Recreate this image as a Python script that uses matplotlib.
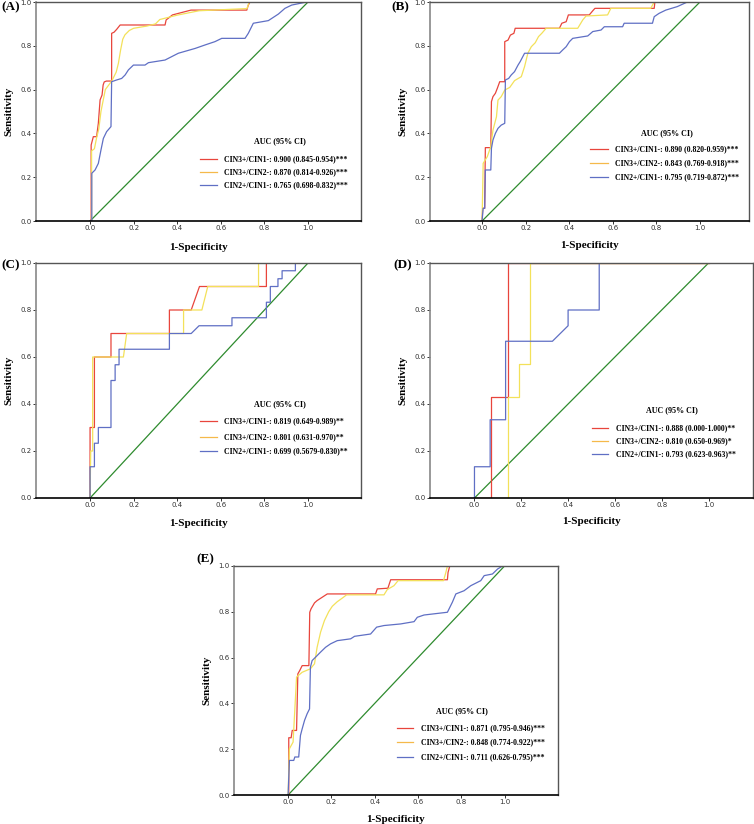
import matplotlib
matplotlib.use("Agg")
import matplotlib.pyplot as plt

# ROC curve vertices (1-specificity, sensitivity)
# (A)
a_red_x = [0, 0.005, 0.005, 0.015, 0.03, 0.038, 0.042, 0.046, 0.055, 0.06, 0.065, 0.075, 0.099, 0.099,
           0.11, 0.122, 0.138, 0.344, 0.349, 0.378, 0.463, 0.719, 0.726, 0.734, 1.0]
a_red_y = [0, 0, 0.347, 0.385, 0.385, 0.446, 0.5, 0.553, 0.575, 0.621, 0.635, 0.639, 0.639, 0.857,
           0.862, 0.875, 0.895, 0.895, 0.918, 0.941, 0.963, 0.963, 0.986, 1.0, 1.0]
a_yel_x = [0, 0.007, 0.007, 0.02, 0.03, 0.04, 0.05, 0.06, 0.07, 0.1, 0.12, 0.13, 0.14, 0.15, 0.16,
           0.18, 0.2, 0.26, 0.3, 0.32, 0.4, 0.5, 0.72, 0.73, 1.0]
a_yel_y = [0, 0, 0.32, 0.33, 0.38, 0.42, 0.5, 0.55, 0.6, 0.64, 0.68, 0.72, 0.78, 0.83, 0.85,
           0.87, 0.88, 0.89, 0.9, 0.92, 0.94, 0.96, 0.97, 1.0, 1.0]
a_blu_x = [0, 0.008, 0.008, 0.023, 0.038, 0.05, 0.061, 0.076, 0.096, 0.099, 0.122, 0.145, 0.161, 0.176,
           0.199, 0.252, 0.268, 0.344, 0.405, 0.482, 0.528, 0.573, 0.604, 0.711, 0.726, 0.749, 0.818,
           0.864, 0.894, 0.925, 0.994, 1.0]
a_blu_y = [0, 0, 0.218, 0.233, 0.263, 0.324, 0.377, 0.408, 0.431, 0.636, 0.644, 0.651, 0.667, 0.69,
           0.712, 0.712, 0.723, 0.735, 0.766, 0.788, 0.804, 0.819, 0.834, 0.834, 0.857, 0.903, 0.915,
           0.945, 0.971, 0.986, 1.0, 1.0]

# (B)
b_red_x = [0, 0.003, 0.012, 0.015, 0.04, 0.043, 0.05, 0.061, 0.07, 0.081, 0.104, 0.104, 0.119, 0.13,
           0.146, 0.152, 0.355, 0.366, 0.386, 0.396, 0.492, 0.508, 0.518, 0.79, 0.793, 1.0]
b_red_y = [0, 0.058, 0.058, 0.335, 0.335, 0.545, 0.568, 0.583, 0.606, 0.636, 0.636, 0.819, 0.826, 0.849,
           0.857, 0.88, 0.88, 0.903, 0.91, 0.941, 0.941, 0.96, 0.971, 0.971, 1.0, 1.0]
b_yel_x = [0, 0.005, 0.024, 0.04, 0.05, 0.066, 0.073, 0.088, 0.104, 0.127, 0.149, 0.18, 0.195, 0.21,
           0.226, 0.244, 0.259, 0.274, 0.294, 0.439, 0.462, 0.477, 0.576, 0.591, 0.774, 0.79, 1.0]
b_yel_y = [0, 0.263, 0.294, 0.34, 0.415, 0.476, 0.552, 0.568, 0.598, 0.61, 0.641, 0.659, 0.705, 0.766,
           0.796, 0.814, 0.842, 0.857, 0.88, 0.88, 0.918, 0.936, 0.941, 0.971, 0.971, 1.0, 1.0]
b_blu_x = [0, 0.005, 0.012, 0.015, 0.04, 0.043, 0.05, 0.061, 0.073, 0.088, 0.104, 0.107, 0.122, 0.134,
           0.149, 0.165, 0.175, 0.195, 0.355, 0.37, 0.386, 0.401, 0.416, 0.485, 0.508, 0.546, 0.561,
           0.645, 0.652, 0.782, 0.79, 0.812, 0.843, 0.896, 0.942, 1.0]
b_blu_y = [0, 0.058, 0.058, 0.233, 0.233, 0.332, 0.37, 0.4, 0.423, 0.438, 0.446, 0.644, 0.651, 0.667,
           0.682, 0.712, 0.728, 0.766, 0.766, 0.781, 0.796, 0.819, 0.834, 0.845, 0.865, 0.872, 0.887,
           0.887, 0.903, 0.903, 0.933, 0.948, 0.963, 0.979, 1.0, 1.0]

# (C)
c_red_x = [0, 0, 0.02, 0.02, 0.096, 0.096, 0.364, 0.364, 0.464, 0.502, 0.809, 0.809, 1.0]
c_red_y = [0, 0.3, 0.3, 0.6, 0.6, 0.7, 0.7, 0.8, 0.8, 0.9, 0.9, 1.0, 1.0]
c_yel_x = [0, 0.003, 0.012, 0.012, 0.153, 0.168, 0.429, 0.429, 0.513, 0.54, 0.773, 0.773, 1.0]
c_yel_y = [0, 0.2, 0.2, 0.6, 0.6, 0.7, 0.7, 0.8, 0.8, 0.9, 0.9, 1.0, 1.0]
c_blu_x = [0, 0, 0.02, 0.02, 0.038, 0.038, 0.096, 0.096, 0.115, 0.115, 0.133, 0.133, 0.364, 0.364,
           0.464, 0.5, 0.651, 0.651, 0.809, 0.809, 0.827, 0.827, 0.862, 0.862, 0.881, 0.881, 0.942,
           0.942, 1.0]
c_blu_y = [0, 0.133, 0.133, 0.233, 0.233, 0.3, 0.3, 0.5, 0.5, 0.567, 0.567, 0.633, 0.633, 0.7,
           0.7, 0.733, 0.733, 0.767, 0.767, 0.833, 0.833, 0.9, 0.9, 0.933, 0.933, 0.967, 0.967,
           1.0, 1.0]

# (D)
d_red_x = [0, 0.071, 0.071, 0.143, 0.143, 1.0]
d_red_y = [0, 0, 0.429, 0.429, 1.0, 1.0]
d_yel_x = [0, 0.143, 0.143, 0.19, 0.19, 0.238, 0.238, 1.0]
d_yel_y = [0, 0, 0.429, 0.429, 0.571, 0.571, 1.0, 1.0]
d_blu_x = [0, 0, 0.067, 0.067, 0.133, 0.133, 0.333, 0.4, 0.4, 0.533, 0.533, 1.0]
d_blu_y = [0, 0.133, 0.133, 0.333, 0.333, 0.667, 0.667, 0.733, 0.8, 0.8, 1.0, 1.0]

# (E)
e_red_x = [0, 0.003, 0.003, 0.014, 0.019, 0.039, 0.045, 0.054, 0.065, 0.096, 0.1, 0.106, 0.122, 0.134,
           0.181, 0.404, 0.412, 0.461, 0.474, 0.736, 0.739, 0.747, 1.0]
e_red_y = [0, 0, 0.25, 0.25, 0.282, 0.282, 0.529, 0.544, 0.565, 0.565, 0.798, 0.813, 0.839, 0.849,
           0.878, 0.878, 0.9, 0.903, 0.94, 0.94, 0.972, 1.0, 1.0]
e_yel_x = [0, 0.006, 0.023, 0.039, 0.065, 0.103, 0.122, 0.134, 0.15, 0.168, 0.188, 0.204, 0.227,
           0.255, 0.27, 0.443, 0.458, 0.489, 0.508, 0.718, 0.728, 0.736, 1.0]
e_yel_y = [0, 0.202, 0.231, 0.515, 0.536, 0.551, 0.573, 0.645, 0.711, 0.762, 0.801, 0.824, 0.844,
           0.863, 0.874, 0.874, 0.897, 0.914, 0.936, 0.936, 0.969, 1.0, 1.0]
e_blu_x = [0, 0.006, 0.026, 0.031, 0.049, 0.057, 0.065, 0.076, 0.088, 0.099, 0.103, 0.111, 0.127,
           0.15, 0.173, 0.196, 0.227, 0.289, 0.307, 0.381, 0.409, 0.443, 0.52, 0.582, 0.597, 0.628,
           0.736, 0.759, 0.775, 0.813, 0.844, 0.89, 0.906, 0.944, 0.968, 0.991, 1.0]
e_blu_y = [0, 0.151, 0.151, 0.166, 0.166, 0.26, 0.289, 0.326, 0.355, 0.376, 0.558, 0.587, 0.602,
           0.624, 0.645, 0.66, 0.674, 0.682, 0.693, 0.703, 0.733, 0.74, 0.747, 0.757, 0.776, 0.786,
           0.798, 0.842, 0.878, 0.892, 0.914, 0.936, 0.958, 0.965, 0.987, 1.0, 1.0]

labels_a = ["CIN3+/CIN1-: 0.900 (0.845-0.954)***", "CIN3+/CIN2-: 0.870 (0.814-0.926)***",
            "CIN2+/CIN1-: 0.765 (0.698-0.832)***"]
labels_b = ["CIN3+/CIN1-: 0.890 (0.820-0.959)***", "CIN3+/CIN2-: 0.843 (0.769-0.918)***",
            "CIN2+/CIN1-: 0.795 (0.719-0.872)***"]
labels_c = ["CIN3+/CIN1-: 0.819 (0.649-0.989)**", "CIN3+/CIN2-: 0.801 (0.631-0.970)**",
            "CIN2+/CIN1-: 0.699 (0.5679-0.830)**"]
labels_d = ["CIN3+/CIN1-: 0.888 (0.000-1.000)**", "CIN3+/CIN2-: 0.810 (0.650-0.969)*",
            "CIN2+/CIN1-: 0.793 (0.623-0.963)**"]
labels_e = ["CIN3+/CIN1-: 0.871 (0.795-0.946)***", "CIN3+/CIN2-: 0.848 (0.774-0.922)***",
            "CIN2+/CIN1-: 0.711 (0.626-0.795)***"]

colors = ["#e8453c", "#f3e15a", "#5f6fc4"]
legend_colors = ["#e8453c", "#f5b94a", "#5f6fc4"]
serif = "Liberation Serif"

fig = plt.figure(figsize=(7.54, 8.24), dpi=100)

panels = [
    ("(A)", [36, 2, 361, 221], (-0.248, 1.243), (a_red_x, a_red_y, a_yel_x, a_yel_y, a_blu_x, a_blu_y),
     labels_a, (0.75, 0.365, [0.283, 0.224, 0.164], 0.505, 0.557, 0.578), (1, 7), 8.5),
    ("(B)", [430, 2, 749, 221], (-0.239, 1.225), (b_red_x, b_red_y, b_yel_x, b_yel_y, b_blu_x, b_blu_y),
     labels_b, (0.743, 0.40, [0.329, 0.265, 0.2], 0.50, 0.558, 0.58), (391, 7), 7),
    ("(C)", [36, 263, 361, 498], (-0.248, 1.243), (c_red_x, c_red_y, c_yel_x, c_yel_y, c_blu_x, c_blu_y),
     labels_c, (0.75, 0.40, [0.328, 0.26, 0.2], 0.505, 0.557, 0.578), (1, 265), 7.5),
    ("(D)", [430, 263, 753, 498], (-0.19, 1.19), (d_red_x, d_red_y, d_yel_x, d_yel_y, d_blu_x, d_blu_y),
     labels_d, (0.749, 0.374, [0.298, 0.243, 0.187], 0.50, 0.55, 0.576), (393, 265), 6.5),
    ("(E)", [234, 566, 558, 795], (-0.25, 1.247), (e_red_x, e_red_y, e_yel_x, e_yel_y, e_blu_x, e_blu_y),
     labels_e, (0.704, 0.367, [0.293, 0.231, 0.166], 0.503, 0.552, 0.577), (196, 559), 7),
]

W, H = 754, 824
for letter, box, xlim, curves, labels, leg, lpos, xpad in panels:
    x0, y0, x1, y1 = box
    ax = fig.add_axes([x0 / W, 1 - y1 / H, (x1 - x0) / W, (y1 - y0) / H])
    ax.plot([0, 1], [0, 1], color="#2e8b2e", lw=0.9)
    for i in range(3):
        ax.plot(curves[2 * i], curves[2 * i + 1], color=colors[i], lw=0.9)
    ax.set_xlim(xlim)
    ax.set_ylim(0, 1)
    ax.set_xticks([0, 0.2, 0.4, 0.6, 0.8, 1.0])
    ax.set_yticks([0, 0.2, 0.4, 0.6, 0.8, 1.0])
    ax.set_xticklabels(["0.0", "0.2", "0.4", "0.6", "0.8", "1.0"])
    ax.set_yticklabels(["0.0", "0.2", "0.4", "0.6", "0.8", "1.0"])
    ax.tick_params(labelsize=5, length=2, width=0.7, pad=1, colors="#333333")
    for side in ["top", "right"]:
        ax.spines[side].set_color("#555555")
        ax.spines[side].set_linewidth(1.0)
    ax.spines["left"].set_color("#888888")
    ax.spines["left"].set_linewidth(1.2)
    ax.spines["bottom"].set_color("black")
    ax.spines["bottom"].set_linewidth(1.2)
    ax.set_xlabel("1-Specificity", family=serif, fontweight="bold", fontsize=8, labelpad=xpad)
    ax.set_ylabel("Sensitivity", family=serif, fontweight="bold", fontsize=8, labelpad=5)

    tx, ty, rows, lx0, lx1, txt = leg
    ax.text(tx, ty, "AUC (95% CI)", transform=ax.transAxes, family=serif, fontweight="bold",
            fontsize=5.8, ha="center", va="center")
    for i in range(3):
        ax.plot([lx0, lx1], [rows[i], rows[i]], transform=ax.transAxes, color=legend_colors[i], lw=0.9)
        ax.text(txt, rows[i], labels[i], transform=ax.transAxes, family=serif, fontweight="bold",
                fontsize=5.6, ha="left", va="center")

    fig.text(lpos[0] / W, 1 - lpos[1] / H, letter, family=serif, fontweight="bold", fontsize=9.5,
             ha="left", va="center")

plt.savefig("out.png", dpi=100)
